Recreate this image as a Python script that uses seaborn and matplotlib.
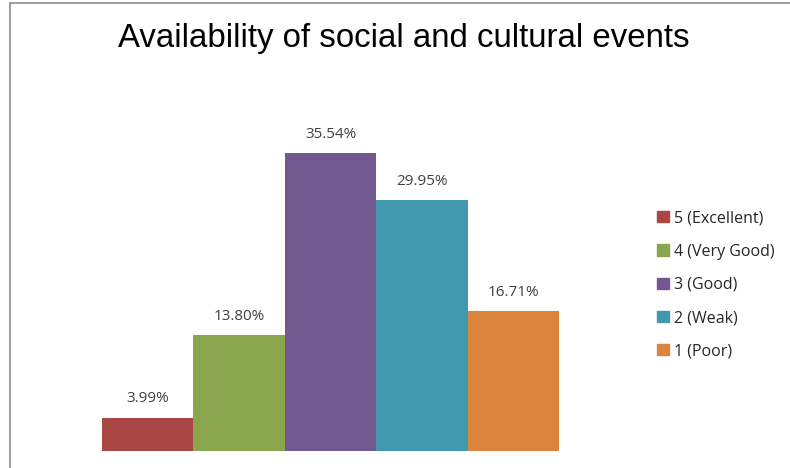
import matplotlib
matplotlib.use("Agg")
import matplotlib.pyplot as plt
import matplotlib.lines as mlines
import matplotlib.patches as mpatches
import pandas as pd
import seaborn as sns

categories = ["5 (Excellent)", "4 (Very Good)", "3 (Good)", "2 (Weak)", "1 (Poor)"]
percentages = [3.99, 13.80, 35.54, 29.95, 16.71]
colors = ["#AA4643", "#89A54E", "#71588F", "#4198AF", "#DB843D"]

df = pd.DataFrame({"category": categories, "pct": percentages})

sns.set_theme(style="white")
plt.rcParams["font.family"] = ["Liberation Sans", "DejaVu Sans"]

fig = plt.figure(figsize=(7.9, 4.68), dpi=100)
ax = fig.add_axes([102 / 790, 1 - 451 / 468, (559 - 102) / 790, (451 - 115.4) / 468])

sns.barplot(data=df, x="category", y="pct", hue="category", palette=colors,
            order=categories, hue_order=categories, width=1.0, dodge=False,
            legend=False, ax=ax, saturation=1, linewidth=0, edgecolor="none")

for container in ax.containers:
    ax.bar_label(container, labels=[f"{v:.2f}%" for v in container.datavalues],
                 padding=8, fontsize=11, color="#404040", family="Open Sans")

ax.set_xlim(-0.5, 4.5)
ax.set_ylim(0, 40)
ax.set_axis_off()

fig.text(404 / 790, 1 - 38 / 468, "Availability of social and cultural events",
         ha="center", va="center", fontsize=23.8, color="black")

# legend
handles = [mpatches.Patch(color=c, label=l) for c, l in zip(colors, categories)]
fig.legend(handles=handles, loc="upper left", bbox_to_anchor=(643 / 790, 1 - 196 / 468),
           frameon=False, handlelength=0.7, handleheight=0.7,
           handletextpad=0.35, labelspacing=1.08, prop={"family": "Open Sans", "size": 11.5})

# chart border
fig.add_artist(mlines.Line2D([10 / 790, 10 / 790], [0, 1 - 3 / 468], color="#8c8c8c", lw=1.2))
fig.add_artist(mlines.Line2D([10 / 790, 1], [1 - 3 / 468, 1 - 3 / 468], color="#8c8c8c", lw=1.2))

fig.savefig("out.png", dpi=100)
plt.close(fig)
